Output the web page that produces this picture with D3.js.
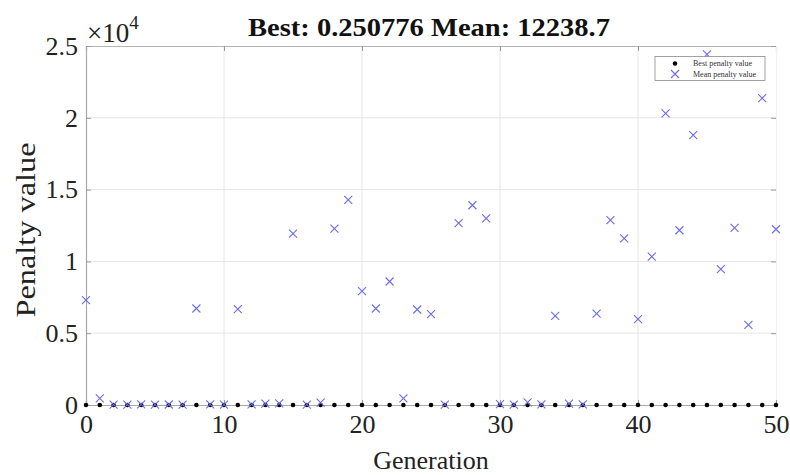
<!DOCTYPE html>
<html>
<head>
<meta charset="utf-8">
<script src="https://cdn.jsdelivr.net/npm/d3@7"></script>
<style>
  html, body { margin: 0; padding: 0; background: #fff; }
  svg { display: block; font-family: "Liberation Serif", "Times New Roman", serif; }
</style>
</head>
<body>
<svg id="chart" width="790" height="475"></svg>
<script>
// Genetic algorithm run: penalty per generation
const generations = d3.range(0, 51);

const meanPenalty = [
  7300, 460, 30, 25, 40, 20, 35, 30, 6720, 45,
  30, 6680, 40, 90, 110, 11930, 30, 160, 12280, 14280,
  7930, 6720, 8600, 460, 6650, 6330, 20, 12660, 13910, 13000,
  60, 30, 190, 40, 6210, 100, 50, 6370, 12870, 11610,
  5980, 10330, 20310, 12170, 18800, 24410, 9460, 12330, 5580, 21370,
  12238.7
];

const bestPenalty = [
  3.91, 2.87, 2.87, 1.94, 1.94, 1.62, 1.62, 1.18, 1.18, 0.97,
  0.97, 0.86, 0.86, 0.86, 0.74, 0.74, 0.69, 0.69, 0.61, 0.61,
  0.58, 0.52, 0.52, 0.47, 0.47, 0.44, 0.41, 0.41, 0.38, 0.38,
  0.36, 0.35, 0.33, 0.33, 0.31, 0.31, 0.30, 0.29, 0.29, 0.28,
  0.28, 0.27, 0.27, 0.27, 0.26, 0.26, 0.26, 0.255, 0.253, 0.251,
  0.250776
];

const xTicks = [0, 10, 20, 30, 40, 50];
const yTicks = [0, 5000, 10000, 15000, 20000, 25000];
const yTickLabels = ["0", "0.5", "1", "1.5", "2", "2.5"];
const legendLabels = ["Best penalty value", "Mean penalty value"];

const svg = d3.select("#chart");
const plotL = 86, plotR = 776, plotT = 46, plotB = 405;

const x = d3.scaleLinear().domain([0, 50]).range([plotL, plotR]);
const y = d3.scaleLinear().domain([0, 25000]).range([plotB, plotT]);

const gridColor = "#e6e6e6";
const axisColor = "#a8a8a8";
const crossColor = "#6b6bec";

// grid
svg.append("g").selectAll("line").data(xTicks.slice(1, -1)).join("line")
  .attr("x1", d => x(d)).attr("x2", d => x(d))
  .attr("y1", plotT).attr("y2", plotB)
  .attr("stroke", gridColor).attr("stroke-width", 1);
svg.append("g").selectAll("line").data(yTicks.slice(1, -1)).join("line")
  .attr("x1", plotL).attr("x2", plotR)
  .attr("y1", d => y(d)).attr("y2", d => y(d))
  .attr("stroke", gridColor).attr("stroke-width", 1);

// axes box
const bottomAxis = d3.axisBottom(x).tickValues(xTicks).tickSize(-5).tickPadding(10).tickFormat(d3.format("d"));
const leftAxis = d3.axisLeft(y).tickValues(yTicks).tickSize(-5).tickPadding(8)
  .tickFormat((d, i) => yTickLabels[i]);
const topAxis = d3.axisTop(x).tickValues(xTicks).tickSize(-5).tickFormat("");
const rightAxis = d3.axisRight(y).tickValues(yTicks).tickSize(-5).tickFormat("");

function styleAxis(g) {
  g.select(".domain").attr("stroke", axisColor).attr("stroke-width", 1.2);
  g.selectAll(".tick line").attr("stroke", "#9a9a9a");
  g.selectAll(".tick text").attr("fill", "#222").attr("font-size", 26)
    .attr("font-family", "Liberation Serif, Times New Roman, serif");
}

svg.append("g").attr("transform", `translate(0,${plotT})`).call(topAxis).call(styleAxis)
  .select(".domain").attr("stroke", "#b4b4b4");
svg.append("g").attr("transform", `translate(${plotR},0)`).call(rightAxis).call(styleAxis)
  .select(".domain").attr("stroke", "#f2f2f2");
svg.append("g").attr("transform", `translate(0,${plotB})`).call(bottomAxis).call(styleAxis);
svg.append("g").attr("transform", `translate(${plotL},0)`).call(leftAxis).call(styleAxis);

// exponent label
const expo = svg.append("text").attr("x", plotL + 1).attr("y", 42)
  .attr("font-size", 27).attr("fill", "#222");
expo.append("tspan").text("\u00d710");
expo.append("tspan").attr("dy", -13).attr("font-size", 19).text("4");

// title
svg.append("text").attr("x", 429).attr("y", 36).attr("text-anchor", "middle")
  .attr("font-size", 25).attr("font-weight", "bold").attr("fill", "#111")
  .attr("textLength", 362).attr("lengthAdjust", "spacingAndGlyphs")
  .text(`Best: ${bestPenalty[50]} Mean: ${meanPenalty[50]}`);

// axis titles
svg.append("text").attr("x", 431).attr("y", 469).attr("text-anchor", "middle")
  .attr("font-size", 26).attr("fill", "#222").text("Generation");
svg.append("text").attr("transform", "translate(35,230) rotate(-90)")
  .attr("text-anchor", "middle").attr("font-size", 28).attr("fill", "#222")
  .attr("textLength", 175).attr("lengthAdjust", "spacingAndGlyphs")
  .text("Penalty value");

// markers
const cross = 4;
function drawCross(g, cx, cy) {
  g.append("path")
    .attr("d", `M${cx - cross},${cy - cross}L${cx + cross},${cy + cross}M${cx - cross},${cy + cross}L${cx + cross},${cy - cross}`)
    .attr("stroke", crossColor).attr("stroke-width", 1.1).attr("fill", "none");
}

const dots = svg.append("g");
dots.selectAll("circle").data(generations).join("circle")
  .attr("cx", d => x(d)).attr("cy", d => y(bestPenalty[d]))
  .attr("r", 2.3).attr("fill", "#000");

const crosses = svg.append("g");
generations.forEach(d => drawCross(crosses, x(d), y(meanPenalty[d])));

// legend
const lg = svg.append("g");
lg.append("rect").attr("x", 655).attr("y", 56.5).attr("width", 110).attr("height", 24)
  .attr("fill", "#fff").attr("stroke", "#8a8a8a").attr("stroke-width", 0.8);
lg.append("circle").attr("cx", 675).attr("cy", 63.5).attr("r", 2.2).attr("fill", "#000");
drawCross(lg, 675, 74);
lg.selectAll("text").data(legendLabels).join("text")
  .attr("x", 693).attr("y", (d, i) => 66 + i * 10.5)
  .attr("font-size", 8).attr("fill", "#333").text(d => d);
</script>
</body>
</html>
